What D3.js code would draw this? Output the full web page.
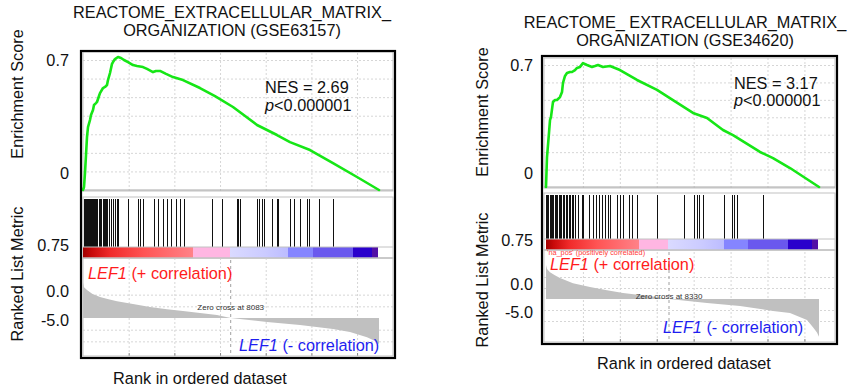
<!DOCTYPE html>
<html>
<head>
<meta charset="utf-8">
<script src="https://d3js.org/d3.v7.min.js"></script>
<style>
  body { margin: 0; background: #fff; }
  svg text { font-family: "Liberation Sans", Arial, Helvetica, sans-serif; }
</style>
</head>
<body>
<svg id="chart" width="849" height="391"></svg>
<script>
// ---- data ----
const leftTitle = ["REACTOME_EXTRACELLULAR_MATRIX_", "ORGANIZATION (GSE63157)"];
const rightTitle = ["REACTOME_ EXTRACELLULAR_MATRIX_", "ORGANIZATION (GSE34620)"];
const leftNES = "NES = 2.69";
const rightNES = "NES = 3.17";
const pValue = "0.000001";
const leftGenes = 16200;
const rightGenes = 18488;
const leftZeroCross = 8083;
const rightZeroCross = 8330;
const esTickLabels = ["0.7", "0"];
const metricTickLabels = ["0.75", "0.0", "-5.0"];

// running enrichment score, [rank, ES]
const leftES = [[0,0],[55,0.016],[109,0.092],[164,0.188],[219,0.285],[274,0.339],[383,0.377],[438,0.404],
  [547,0.431],[602,0.458],[711,0.468],[766,0.474],[876,0.506],[930,0.522],[1095,0.549],[1204,0.555],
  [1314,0.565],[1368,0.592],[1478,0.630],[1587,0.679],[1642,0.689],[1751,0.705],[1916,0.716],[2080,0.711],
  [2244,0.700],[2463,0.689],[2737,0.673],[2956,0.668],[3284,0.662],[3503,0.652],[3831,0.635],[3995,0.641],
  [4214,0.641],[4543,0.625],[4926,0.608],[5473,0.592],[6403,0.549],[7224,0.506],[8209,0.447],[9523,0.350],
  [10618,0.296],[11329,0.258],[12424,0.215],[13682,0.145],[14996,0.070],[16200,0]];
const rightES = [[0,0],[68,0.172],[203,0.310],[271,0.384],[339,0.402],[474,0.488],[609,0.499],[745,0.499],
  [948,0.516],[1084,0.545],[1151,0.597],[1287,0.637],[1422,0.654],[1625,0.660],[1761,0.660],[1964,0.671],
  [2099,0.683],[2302,0.689],[2506,0.711],[2777,0.700],[3115,0.689],[3318,0.694],[3521,0.700],[3860,0.689],
  [4334,0.694],[5011,0.671],[6163,0.614],[7517,0.557],[8600,0.499],[9955,0.425],[10903,0.396],[11986,0.327],
  [12663,0.298],[14492,0.201],[15373,0.166],[16524,0.109],[18488,0]];

// gene set hits (rank positions)
const leftHits = [55,109,164,219,274,328,383,438,493,547,602,657,711,766,876,930,985,1095,1149,1204,1259,
  1314,1423,1532,1642,1751,1861,1916,2463,3010,3120,3284,3886,4105,4378,4597,4816,5090,5309,5528,7060,7607,
  8428,8483,8593,9523,9632,9796,9906,10344,10618,10672,11329,11548,11876,12260,12369,12916,13682];
const rightHits = [20,68,135,271,339,406,474,609,677,745,880,948,1016,1151,1219,1354,1422,1558,1625,1761,
  1828,1964,2167,2438,2506,2912,3183,3386,3589,3792,3996,4199,4334,4808,5011,5215,5621,5824,6163,7517,9345,
  10023,10226,10361,10632,12054,12595,12731,12934,14695];

// ranked list metric, [rank, value]
const leftMetric = [[0,0.76],[55,0.66],[219,0.60],[500,0.52],[930,0.45],[1400,0.40],[1861,0.36],[2737,0.30],
  [3667,0.236],[4597,0.19],[5473,0.15],[6403,0.107],[7334,0.064],[8083,0],[10070,-0.086],[11876,-0.15],
  [13682,-0.236],[14613,-0.30],[15543,-0.41],[15872,-0.47],[16100,-0.52],[16200,-0.56]];
const rightMetric = [[0,0.77],[68,0.68],[271,0.61],[600,0.54],[948,0.48],[1828,0.36],[2980,0.27],[4131,0.20],
  [5215,0.136],[6366,0.09],[7517,0.045],[8330,0],[10903,-0.09],[13138,-0.16],[15373,-0.27],[16524,-0.32],
  [17675,-0.48],[18081,-0.64],[18350,-0.76],[18488,-0.86]];

// colour bar band boundaries (ranks)
const leftBarBreaks = [0, 6020, 8045, 11220, 12588, 14777, 15817, 16145];
const rightBarBreaks = [0, 6298, 8262, 12054, 13679, 16388, 18014, 18420];
const barColors = ["url(#redBand)", "#ffb6e2", "url(#lilacBand)", "#8585ff", "#6a58ee", "#2a00cc", "#5210a6"];

const svg = d3.select("#chart");
const defs = svg.append("defs");

function gradient(id, stops) {
  const g = defs.append("linearGradient").attr("id", id);
  stops.forEach(s => g.append("stop").attr("offset", s[0]).attr("stop-color", s[1]));
}
gradient("redBand", [[0, "#a00000"], [0.08, "#c80a0a"], [0.25, "#f02a2a"], [0.55, "#ff5454"], [1, "#ff8288"]]);
gradient("lilacBand", [[0, "#dadaff"], [0.6, "#cbcbff"], [1, "#bcbcff"]]);

const GRID = "#d6d6d6";
const BOX = "#c2c2c2";

function drawPanel(p) {
  const g = svg.append("g");
  const x = d3.scaleLinear().domain([0, p.n]).range(p.plotX);
  const yES = d3.scaleLinear().domain([0, 0.7]).range([p.esZero, p.es07]);
  const yM = d3.scaleLinear().domain([0, 1]).range([p.mZero, p.mZero - p.mUnit]);
  const ticks = d3.range(2500, p.n, 2500);
  const ix0 = p.frame[0] + 2, ix1 = p.frame[2] - 2;

  // ---- enrichment score panel ----
  g.append("g")
    .attr("transform", `translate(0,${p.esBottom})`)
    .call(d3.axisBottom(x).tickValues(ticks).tickSize(-(p.esBottom - p.esTop)).tickFormat(""))
    .call(a => a.select(".domain").remove())
    .call(a => a.selectAll("line").attr("stroke", GRID).attr("stroke-dasharray", "2,2"));
  g.append("g")
    .attr("transform", `translate(${ix0},0)`)
    .call(d3.axisRight(yES).tickValues(d3.range(1, 8).map(i => i / 10)).tickSize(ix1 - ix0).tickFormat(""))
    .call(a => a.select(".domain").remove())
    .call(a => a.selectAll("line").attr("stroke", GRID).attr("stroke-dasharray", "2,2"));
  g.append("rect").attr("x", ix0).attr("y", p.esTop).attr("width", ix1 - ix0)
    .attr("height", p.esBottom - p.esTop).attr("fill", "none").attr("stroke", BOX);
  g.append("line").attr("x1", ix0).attr("x2", ix1).attr("y1", yES(0)).attr("y2", yES(0))
    .attr("stroke", "#a8a8a8");

  // ---- hits panel ----
  g.append("rect").attr("x", ix0).attr("y", p.hitsTop).attr("width", ix1 - ix0)
    .attr("height", p.barBottom - p.hitsTop).attr("fill", "none").attr("stroke", BOX);
  g.selectAll(".hit").data(p.hits).enter().append("line")
    .attr("x1", d => Math.round(x(d)) + 0.5).attr("x2", d => Math.round(x(d)) + 0.5)
    .attr("y1", p.hitsTop + 2).attr("y2", p.barTop)
    .attr("stroke", "#111").attr("stroke-width", 1);

  // colour bar
  const bands = d3.pairs(p.breaks);
  g.selectAll(".band").data(bands).enter().append("rect")
    .attr("x", d => x(d[0])).attr("width", d => x(d[1]) - x(d[0]))
    .attr("y", p.barTop).attr("height", p.barBottom - p.barTop)
    .attr("fill", (d, i) => barColors[i]);
  [p.barTop, p.barBottom].forEach(yy => g.append("line").attr("x1", ix0).attr("x2", ix1)
    .attr("y1", yy).attr("y2", yy).attr("stroke", BOX));

  // ---- ranked list metric panel ----
  g.append("g")
    .attr("transform", `translate(0,${p.metricBottom})`)
    .call(d3.axisBottom(x).tickValues(ticks).tickSize(-(p.metricBottom - p.barBottom)).tickFormat(""))
    .call(a => a.select(".domain").remove())
    .call(a => a.selectAll("line").attr("stroke", GRID).attr("stroke-dasharray", "2,2"));
  g.append("g")
    .attr("transform", `translate(${ix0},0)`)
    .call(d3.axisRight(yM).tickValues([0.5, 0.25, -0.25, -0.5]).tickSize(ix1 - ix0).tickFormat(""))
    .call(a => a.select(".domain").remove())
    .call(a => a.selectAll("line").attr("stroke", GRID).attr("stroke-dasharray", "2,2"));
  g.append("path").datum(p.metric)
    .attr("d", d3.area().x(d => x(d[0])).y0(yM(0)).y1(d => yM(d[1])))
    .attr("fill", "#c0c0c0");
  g.append("line").attr("x1", x(p.zeroCross)).attr("x2", x(p.zeroCross))
    .attr("y1", p.barBottom + 2).attr("y2", p.metricBottom - 2)
    .attr("stroke", "#a0a0a0").attr("stroke-dasharray", "3,3");
  g.append("text").attr("x", x(p.zeroCross)).attr("y", p.zeroTextY)
    .attr("text-anchor", "middle").attr("dominant-baseline", "central")
    .attr("font-size", 8).attr("fill", "#333").text("Zero cross at " + p.zeroCross);
  // bottom ticks
  g.append("g")
    .attr("transform", `translate(0,${p.metricBottom})`)
    .call(d3.axisBottom(x).tickValues(ticks).tickSize(-3).tickFormat(""))
    .call(a => a.select(".domain").remove())
    .call(a => a.selectAll("line").attr("stroke", "#888"));
  g.append("rect").attr("x", ix0).attr("y", p.barBottom).attr("width", ix1 - ix0)
    .attr("height", p.metricBottom - p.barBottom).attr("fill", "none").attr("stroke", BOX);

  // ES curve
  g.append("path").datum(p.es)
    .attr("d", d3.line().x(d => x(d[0])).y(d => yES(d[1])))
    .attr("fill", "none").attr("stroke", "#16e616").attr("stroke-width", 2.6)
    .attr("stroke-linejoin", "round").attr("stroke-linecap", "round");

  // outer frame
  g.append("rect").attr("x", p.frame[0]).attr("y", p.frame[1])
    .attr("width", p.frame[2] - p.frame[0]).attr("height", p.frame[3] - p.frame[1])
    .attr("fill", "none").attr("stroke", "#000").attr("stroke-width", 2.2);

  // ---- texts ----
  const T = (tx, ty, s, size) => g.append("text").attr("x", tx).attr("y", ty)
    .attr("dominant-baseline", "central").attr("font-size", size || 16.3).attr("fill", "#111").text(s);

  p.title.forEach((s, i) => T(p.titleX, p.titleY[i], s).attr("text-anchor", "middle"));
  T(0, 0, "Enrichment Score").attr("text-anchor", "middle")
    .attr("transform", `translate(${p.yLabelX},${p.esLabelY}) rotate(-90)`);
  T(0, 0, "Ranked List Metric").attr("text-anchor", "middle")
    .attr("transform", `translate(${p.yLabelX},${p.metricLabelY}) rotate(-90)`);
  esTickLabels.forEach((s, i) => T(p.tickLabelX, p.esTickY[i], s).attr("text-anchor", "end"));
  metricTickLabels.forEach((s, i) => T(p.tickLabelX, p.metricTickY[i], s).attr("text-anchor", "end"));
  T(p.nesX, p.nesY[0], p.nes);
  const pv = T(p.nesX, p.nesY[1], "");
  pv.append("tspan").attr("font-style", "italic").text("p");
  pv.append("tspan").text("<" + pValue);

  if (p.naPos) {
    T(p.naPos[0], p.naPos[1], "'na_pos' (positively correlated)", 7.3).attr("fill", "#ff3b3b");
  }
  const pos = T(p.posText[0], p.posText[1], "").attr("fill", "#ff1c1c");
  pos.append("tspan").attr("font-style", "italic").text("LEF1");
  pos.append("tspan").text(" (+ correlation)");
  const neg = T(p.negText[0], p.negText[1], "").attr("fill", "#1e1ef0");
  neg.append("tspan").attr("font-style", "italic").text("LEF1");
  neg.append("tspan").text(" (- correlation)");
  T(p.xLabel[0], p.xLabel[1], "Rank in ordered dataset").attr("text-anchor", "middle");
}

drawPanel({
  n: leftGenes, es: leftES, hits: leftHits, metric: leftMetric, breaks: leftBarBreaks,
  zeroCross: leftZeroCross, title: leftTitle, nes: leftNES,
  frame: [81, 51, 395, 358], plotX: [83, 379],
  esTop: 52, esBottom: 191, esZero: 190, es07: 60,
  hitsTop: 197, barTop: 247, barBottom: 258, metricBottom: 356,
  mZero: 318, mUnit: 46.7, zeroTextY: 307,
  titleX: 232, titleY: [12, 30], yLabelX: 17, esLabelY: 94, metricLabelY: 274,
  tickLabelX: 69, esTickY: [60, 173], metricTickY: [245, 291, 320],
  nesX: 265, nesY: [87, 105],
  posText: [88, 273], negText: [239, 345], xLabel: [200, 378]
});

drawPanel({
  n: rightGenes, es: rightES, hits: rightHits, metric: rightMetric, breaks: rightBarBreaks,
  zeroCross: rightZeroCross, title: rightTitle, nes: rightNES,
  frame: [542, 56, 837, 344], plotX: [546, 819],
  esTop: 58, esBottom: 188, esZero: 187, es07: 65,
  hitsTop: 193, barTop: 239, barBottom: 250, metricBottom: 342,
  mZero: 299, mUnit: 44, zeroTextY: 296,
  titleX: 685, titleY: [22, 40], yLabelX: 482, esLabelY: 112, metricLabelY: 280,
  tickLabelX: 533, esTickY: [65, 173], metricTickY: [240, 284, 312],
  nesX: 734, nesY: [83, 100],
  naPos: [547, 252], posText: [550, 264], negText: [663, 327], xLabel: [684, 363]
});
</script>
</body>
</html>
